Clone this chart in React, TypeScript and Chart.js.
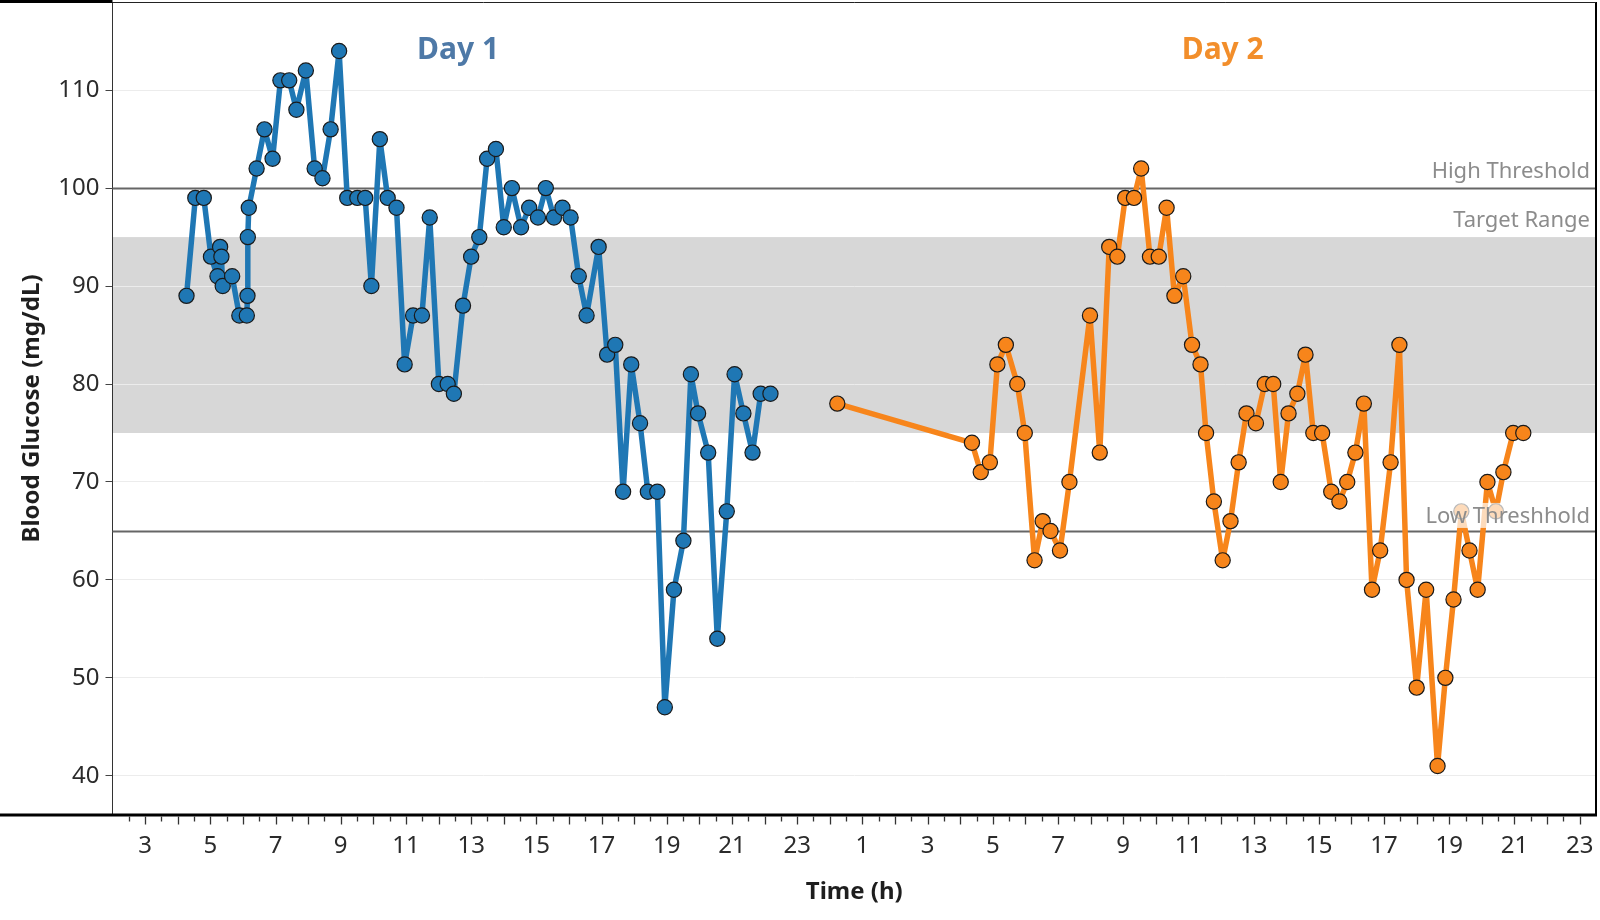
import { useEffect, useRef } from "react";
import { Chart, registerables } from "chart.js";

Chart.register(...registerables);

// ---- data (hours of day) ----
const day1Hours = [
  4.27, 4.54, 4.8, 5.02, 5.22, 5.3, 5.34, 5.38, 5.67, 5.89, 6.12, 6.14, 6.15, 6.18,
  6.42, 6.66, 6.91, 7.15, 7.42, 7.64, 7.93, 8.2, 8.44, 8.69, 8.95, 9.2, 9.51, 9.75,
  9.94, 10.2, 10.44, 10.71, 10.96, 11.22, 11.49, 11.73, 12.01, 12.28, 12.47, 12.75,
  13.0, 13.25, 13.49, 13.76, 14.0, 14.25, 14.53, 14.78, 15.05, 15.29, 15.54, 15.8,
  16.05, 16.3, 16.54, 16.91, 17.17, 17.42, 17.66, 17.91, 18.18, 18.42, 18.71, 18.94,
  19.22, 19.51, 19.74, 19.96, 20.27, 20.55, 20.84, 21.08, 21.35, 21.63, 21.88, 22.18,
];
const day1Glucose = [
  89, 99, 99, 93, 91, 94, 93, 90, 91, 87, 87, 89, 95, 98,
  102, 106, 103, 111, 111, 108, 112, 102, 101, 106, 114, 99, 99, 99,
  90, 105, 99, 98, 82, 87, 87, 97, 80, 80, 79, 88,
  93, 95, 103, 104, 96, 100, 96, 98, 97, 100, 97, 98,
  97, 91, 87, 94, 83, 84, 69, 82, 76, 69, 69, 47,
  59, 64, 81, 77, 73, 54, 67, 81, 77, 73, 79, 79,
];
const day2Hours = [
  0.23, 4.36, 4.63, 4.91, 5.14, 5.4, 5.75, 5.98, 6.28, 6.53, 6.77, 7.06, 7.35, 7.98,
  8.28, 8.57, 8.82, 9.06, 9.33, 9.55, 9.82, 10.09, 10.33, 10.57, 10.84, 11.11, 11.37,
  11.54, 11.78, 12.05, 12.29, 12.54, 12.78, 13.07, 13.34, 13.6, 13.83, 14.07, 14.34,
  14.59, 14.83, 15.1, 15.38, 15.63, 15.87, 16.12, 16.38, 16.63, 16.88, 17.2, 17.47,
  17.69, 18.0, 18.29, 18.64, 18.88, 19.13, 19.37, 19.62, 19.87, 20.17, 20.43, 20.66,
  20.96, 21.27,
];
const day2Glucose = [
  78, 74, 71, 72, 82, 84, 80, 75, 62, 66, 65, 63, 70, 87,
  73, 94, 93, 99, 99, 102, 93, 93, 98, 89, 91, 84, 82,
  75, 68, 62, 66, 72, 77, 76, 80, 80, 70, 77, 79,
  83, 75, 75, 69, 68, 70, 73, 78, 59, 63, 72, 84,
  60, 49, 59, 41, 50, 58, 67, 63, 59, 70, 67, 71,
  75, 75,
];
const yTickValues = [40, 50, 60, 70, 80, 90, 100, 110];
const highThreshold = 100;
const lowThreshold = 65;
const targetRange = [75, 95];
const dayLabels = ["Day 1", "Day 2"];
const thresholdLabels = ["High Threshold", "Target Range", "Low Threshhold"];

const BLUE = "#1f77b4";
const ORANGE = "#f7851b";
const FONT = "'Noto Sans', 'DejaVu Sans', sans-serif";

const decorPlugin = {
  id: "decor",
  beforeDraw(chart: any) {
    const { ctx, chartArea: a, scales } = chart;
    const y = scales.y;
    const t = y.getPixelForValue(targetRange[1]);
    const b = y.getPixelForValue(targetRange[0]);
    ctx.save();
    ctx.fillStyle = "#d7d7d7";
    ctx.fillRect(a.left, t, a.right - a.left, b - t);
    ctx.restore();
  },
  beforeDatasetsDraw(chart: any) {
    const { ctx, chartArea: a, scales } = chart;
    const y = scales.y;
    ctx.save();
    ctx.strokeStyle = "#666";
    ctx.lineWidth = 2;
    [highThreshold, lowThreshold].forEach((v) => {
      const py = Math.round(y.getPixelForValue(v)) + 0.5;
      ctx.beginPath();
      ctx.moveTo(a.left, py);
      ctx.lineTo(a.right, py);
      ctx.stroke();
    });
    ctx.restore();
  },
  afterDatasetsDraw(chart: any) {
    const { ctx, chartArea: a, scales } = chart;
    const x = scales.x;
    const y = scales.y;
    ctx.save();

    // threshold labels
    ctx.font = `400 22px ${FONT}`;
    ctx.textAlign = "right";
    ctx.textBaseline = "alphabetic";
    const labelSpecs = [
      { text: thresholdLabels[0], v: highThreshold, off: 10 },
      { text: thresholdLabels[1], v: targetRange[1], off: 10 },
      { text: thresholdLabels[2], v: lowThreshold, off: 8 },
    ];
    labelSpecs.forEach((s) => {
      const bx = a.right - 6;
      const by = y.getPixelForValue(s.v) - s.off;
      const w = ctx.measureText(s.text).width;
      ctx.fillStyle = "rgba(255,255,255,0.7)";
      ctx.fillRect(bx - w - 3, by - 20, w + 5, 25);
      ctx.fillStyle = "#8c8c8c";
      ctx.fillText(s.text, bx, by);
    });

    // day labels
    ctx.font = `700 30px ${FONT}`;
    ctx.textAlign = "center";
    ctx.textBaseline = "middle";
    ctx.fillStyle = "#4e79a7";
    ctx.fillText(dayLabels[0], x.getPixelForValue(12.6), a.top + 48);
    ctx.fillStyle = "#f28e2b";
    ctx.fillText(dayLabels[1], x.getPixelForValue(36.05), a.top + 48);

    // frame
    ctx.fillStyle = "#000";
    ctx.fillRect(0, 0, a.left, 3);
    ctx.fillRect(0, a.bottom - 1.5, a.right + 1, 3);
    ctx.fillRect(a.right - 1, a.top, 2, a.bottom - a.top);
    ctx.strokeStyle = "#222";
    ctx.lineWidth = 1;
    ctx.beginPath();
    ctx.moveTo(a.left, a.top + 0.5);
    ctx.lineTo(a.right, a.top + 0.5);
    ctx.stroke();

    // x tick marks every half hour
    ctx.strokeStyle = "#333";
    ctx.lineWidth = 1.3;
    for (let h = 2.5; h <= 47.5; h += 0.5) {
      const px = Math.round(x.getPixelForValue(h)) + 0.5;
      if (px > a.right - 1) continue;
      const len = Number.isInteger(h) ? 8 : 5;
      ctx.beginPath();
      ctx.moveTo(px, a.bottom + 1.5);
      ctx.lineTo(px, a.bottom + 1.5 + len);
      ctx.stroke();
    }

    // axis titles
    ctx.fillStyle = "#1e1e1e";
    ctx.font = `700 24px ${FONT}`;
    ctx.textAlign = "center";
    ctx.textBaseline = "middle";
    ctx.fillText("Time (h)", (a.left + a.right) / 2, 892);
    ctx.save();
    ctx.translate(32, (a.top + a.bottom) / 2);
    ctx.rotate(-Math.PI / 2);
    ctx.font = `700 24px ${FONT}`;
    ctx.fillText("Blood Glucose (mg/dL)", 0, 0);
    ctx.restore();

    ctx.restore();
  },
};

export default function App() {
  const ref = useRef<HTMLCanvasElement | null>(null);

  useEffect(() => {
    document.body.style.margin = "0";
    const canvas = ref.current;
    if (!canvas) return;
    const d1 = day1Hours.map((h, i) => ({ x: h, y: day1Glucose[i] }));
    const d2 = day2Hours.map((h, i) => ({ x: h + 24, y: day2Glucose[i] }));
    const ds = (label: string, data: any[], color: string) => ({
      label,
      data,
      borderColor: color,
      backgroundColor: color,
      borderWidth: 5.5,
      borderJoinStyle: "round" as const,
      borderCapStyle: "round" as const,
      pointRadius: 7.6,
      pointBorderWidth: 1.2,
      pointBorderColor: "#1a1a1a",
      pointBackgroundColor: color,
      tension: 0,
    });
    const chart = new Chart(canvas, {
      type: "line",
      data: {
        datasets: [ds(dayLabels[0], d1, BLUE), ds(dayLabels[1], d2, ORANGE)],
      },
      options: {
        animation: false,
        responsive: false,
        events: [],
        layout: { autoPadding: false, padding: { top: 2, right: 4, left: 0, bottom: 0 } },
        plugins: { legend: { display: false }, tooltip: { enabled: false } },
        scales: {
          x: {
            type: "linear",
            min: 2,
            max: 47.5,
            afterFit: (s: any) => {
              s.height = 105;
              s.paddingLeft = 0;
              s.paddingRight = 0;
            },
            grid: { display: false, drawTicks: false },
            border: { display: false },
            ticks: {
              stepSize: 0.5,
              includeBounds: false,
              autoSkip: false,
              maxRotation: 0,
              padding: 17,
              color: "#2b2b2b",
              font: { family: FONT, size: 24 },
              callback: (v: any) => {
                const n = Number(v);
                if (Number.isInteger(n) && n % 2 === 1) return String(n % 24);
                return "";
              },
            },
          },
          y: {
            type: "linear",
            min: 36,
            max: 119,
            afterFit: (s: any) => {
              s.width = 112.5;
              s.paddingTop = 0;
              s.paddingBottom = 0;
            },
            afterBuildTicks: (s: any) => {
              s.ticks = yTickValues.map((v) => ({ value: v }));
            },
            grid: {
              color: "#ececec",
              lineWidth: 1,
              tickLength: 7,
              tickColor: "#444",
              tickWidth: 1,
            },
            border: { display: true, color: "#333", width: 1 },
            ticks: {
              padding: 6,
              color: "#2b2b2b",
              font: { family: FONT, size: 24 },
            },
          },
        },
      },
      plugins: [decorPlugin],
    });
    return () => chart.destroy();
  }, []);

  return (
    <div style={{ width: 1600, height: 920, background: "#fff" }}>
      <canvas ref={ref} width={1600} height={920} style={{ display: "block" }} />
    </div>
  );
}
